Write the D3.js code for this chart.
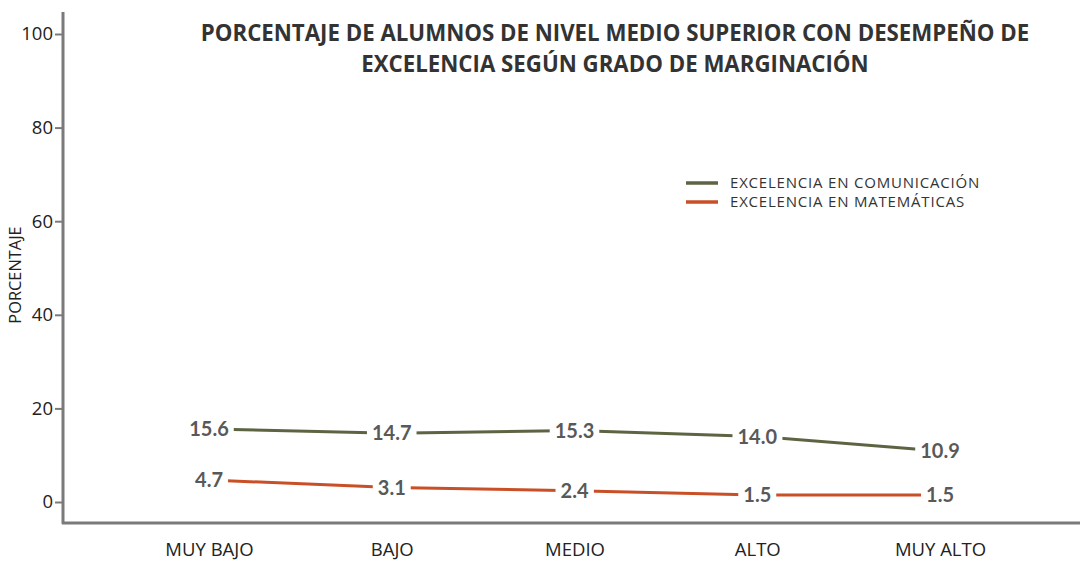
<!DOCTYPE html>
<html>
<head>
<meta charset="utf-8">
<script src="https://cdn.jsdelivr.net/npm/d3@7"></script>
<style>
    body { margin: 0; background: #fff; }
    svg { display: block; }
</style>
</head>
<body>
<div id="chart"></div>
<script>
const categories = ['MUY BAJO', 'BAJO', 'MEDIO', 'ALTO', 'MUY ALTO'];
const comunicacion = [15.6, 14.7, 15.3, 14.0, 10.9];
const matematicas = [4.7, 3.1, 2.4, 1.5, 1.5];
const yTicks = [0, 20, 40, 60, 80, 100];
const seriesNames = ['EXCELENCIA EN COMUNICACIÓN', 'EXCELENCIA EN MATEMÁTICAS'];
const titleLines = [
    'PORCENTAJE DE ALUMNOS DE NIVEL MEDIO SUPERIOR CON DESEMPEÑO DE',
    'EXCELENCIA SEGÚN GRADO DE MARGINACIÓN'
];

const width = 1080;
const height = 561;
const colors = ['#5c6442', '#c94f27'];

const svg = d3.select('#chart')
    .append('svg')
    .attr('width', width)
    .attr('height', height);

const x = d3.scalePoint().domain(categories).range([209, 940]);
const y = d3.scaleLinear().domain([0, 100]).range([502, 34]);

// shrink/grow the font so a text line spans the given width
function fitWidth(textSel, target) {
    const node = textSel.node();
    const size = parseFloat(textSel.attr('font-size'));
    const w = node.getComputedTextLength();
    textSel.attr('font-size', size * target / w);
}

// axes
const axisGroup = svg.append('g');
axisGroup.append('line')
    .attr('x1', 63).attr('x2', 63).attr('y1', 12).attr('y2', 524)
    .attr('stroke', '#7a7a7a').attr('stroke-width', 3);
axisGroup.append('line')
    .attr('x1', 62).attr('x2', 1080).attr('y1', 523).attr('y2', 523)
    .attr('stroke', '#7a7a7a').attr('stroke-width', 3);

const yAxis = svg.append('g')
    .attr('transform', 'translate(62,0)')
    .call(d3.axisLeft(y).tickValues(yTicks).tickSize(7).tickPadding(2));
yAxis.select('.domain').remove();
yAxis.selectAll('line').attr('stroke', '#7a7a7a').attr('stroke-width', 2);
yAxis.selectAll('text')
    .attr('font-family', 'Open Sans')
    .attr('font-size', 18.5)
    .attr('fill', '#222');

const xAxis = svg.append('g')
    .attr('transform', 'translate(0,523)')
    .call(d3.axisBottom(x).tickSize(0).tickPadding(0));
xAxis.select('.domain').remove();
xAxis.selectAll('text')
    .attr('y', 33)
    .attr('dy', null)
    .attr('font-family', 'Open Sans')
    .attr('font-size', 18.5)
    .attr('fill', '#222');

svg.append('text')
    .attr('transform', 'translate(21,275) rotate(-90)')
    .attr('text-anchor', 'middle')
    .attr('font-family', 'Open Sans')
    .attr('font-size', 16.4)
    .attr('fill', '#222')
    .text('PORCENTAJE');

// title
const title = svg.append('g').selectAll('text')
    .data(titleLines)
    .join('text')
    .attr('x', 615)
    .attr('y', (d, i) => 41 + i * 31)
    .attr('text-anchor', 'middle')
    .attr('font-family', 'Open Sans')
    .attr('font-weight', 'bold')
    .attr('font-size', 19)
    .attr('fill', '#333')
    .text(d => d);
fitWidth(title.filter((d, i) => i === 0), 829);
title.filter((d, i) => i === 1).attr('font-size', title.filter((d, i) => i === 0).attr('font-size'));

// lines
const series = [comunicacion, matematicas];
const line = d3.line()
    .x((d, i) => x(categories[i]))
    .y(d => y(d));

svg.append('g').selectAll('path')
    .data(series)
    .join('path')
    .attr('d', line)
    .attr('fill', 'none')
    .attr('stroke', (d, i) => colors[i])
    .attr('stroke-width', 3);

// data labels with white backing
const labelGroup = svg.append('g');
series.forEach((values, si) => {
    values.forEach((v, i) => {
        const g = labelGroup.append('g')
            .attr('transform', `translate(${x(categories[i])},${y(v)})`);
        const t = g.append('text')
            .attr('text-anchor', 'middle')
            .attr('dy', '0.36em')
            .attr('font-family', 'Lato')
            .attr('font-weight', 'bold')
            .attr('font-size', 20)
            .attr('fill', '#595959')
            .text(v.toFixed(1));
        const bb = t.node().getBBox();
        g.insert('rect', 'text')
            .attr('x', bb.x - 5)
            .attr('y', bb.y + 2)
            .attr('width', bb.width + 10)
            .attr('height', bb.height - 4)
            .attr('fill', '#fff');
    });
});

// legend
const legend = svg.append('g').attr('transform', 'translate(686,183)');
const items = legend.selectAll('g')
    .data(seriesNames)
    .join('g')
    .attr('transform', (d, i) => `translate(0,${i * 19})`);
items.append('line')
    .attr('x1', 0).attr('x2', 32)
    .attr('stroke', (d, i) => colors[i])
    .attr('stroke-width', 3.5);
items.append('text')
    .attr('x', 44)
    .attr('dy', '0.36em')
    .attr('font-family', 'Open Sans')
    .attr('font-size', 15)
    .attr('letter-spacing', 0.8)
    .attr('fill', '#333')
    .text(d => d);
</script>
</body>
</html>
